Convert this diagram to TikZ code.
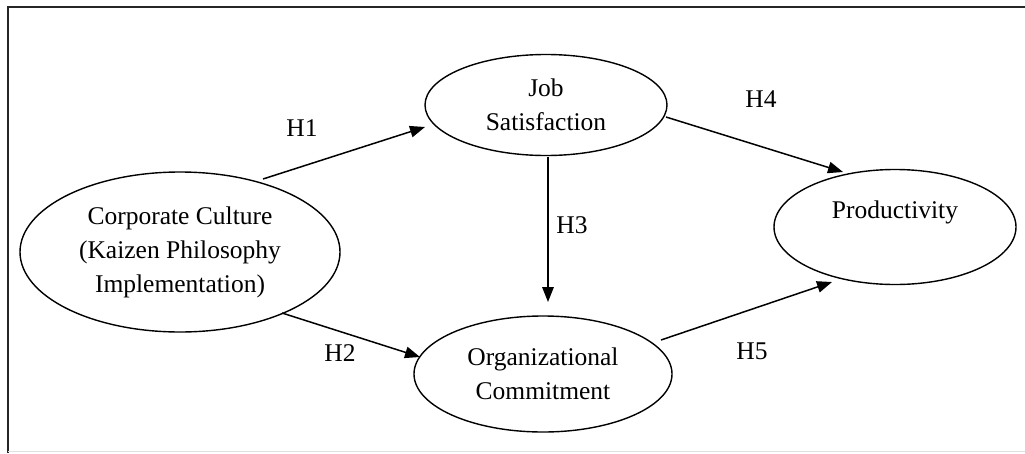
\documentclass[tikz,border=0pt]{standalone}
\usepackage{fontspec}
\setmainfont{Liberation Serif}
\usetikzlibrary{shapes.geometric,arrows.meta,calc}
\tikzset{
  construct/.style={draw, ellipse, line width=1.4pt, inner sep=0pt, align=center,
    font=\fontsize{25.5}{34}\selectfont},
  path/.style={line width=1.5pt, -{Triangle[length=15pt,width=11.5pt]}},
  hlabel/.style={font=\fontsize{25.5}{30}\selectfont, inner sep=0pt},
  frameline/.style={line width=2pt, draw=black!85}
}
\begin{document}
\begin{tikzpicture}[x=1pt,y=-1pt]
\useasboundingbox (0,0) rectangle (1025,453);
\fill[white] (0,0) rectangle (1025,453);
% frame
\coordinate (ftr) at (1025,6.5);
\coordinate (ftl) at (7.5,6.5);
\coordinate (fbl) at (7.5,453);
\draw[frameline] (ftr) -- (ftl) -- (fbl);
\coordinate (gbl) at (8,451.5);
\coordinate (gbr) at (1025,451.5);
\draw[line width=1.2pt, draw=black!12] (gbl) -- (gbr);
% constructs
\node[construct, minimum width=320pt, minimum height=160pt] (cc) at (180,252)
  {Corporate Culture\\(Kaizen Philosophy\\Implementation)};
\node[construct, minimum width=242pt, minimum height=101pt] (js) at (546,105)
  {Job\\Satisfaction};
\node[construct, minimum width=258pt, minimum height=116pt] (oc) at (543,374)
  {Organizational\\Commitment};
\node[construct, minimum width=242pt, minimum height=115pt] (pr) at (895,227)
  {Productivity\\\mbox{}};
% paths
\draw[path] ($(cc)+(83,-73)$) -- ($(js)+(-121,22)$);
\draw[path] ($(cc)+(102,61)$) -- ($(oc)+(-123,-17)$);
\draw[path] ($(js)+(2,52)$) -- ($(oc)+(5,-72)$);
\draw[path] ($(js)+(120,12)$) -- ($(pr)+(-52,-55)$);
\draw[path] ($(oc)+(118,-34)$) -- ($(pr)+(-63,55)$);
% labels
\node[hlabel] (h1) at (302,128) {H1};
\node[hlabel] (h2) at (340,353) {H2};
\node[hlabel] (h3) at (572,225) {H3};
\node[hlabel] (h4) at (761,99) {H4};
\node[hlabel] (h5) at (752,351) {H5};
\end{tikzpicture}
\end{document}
